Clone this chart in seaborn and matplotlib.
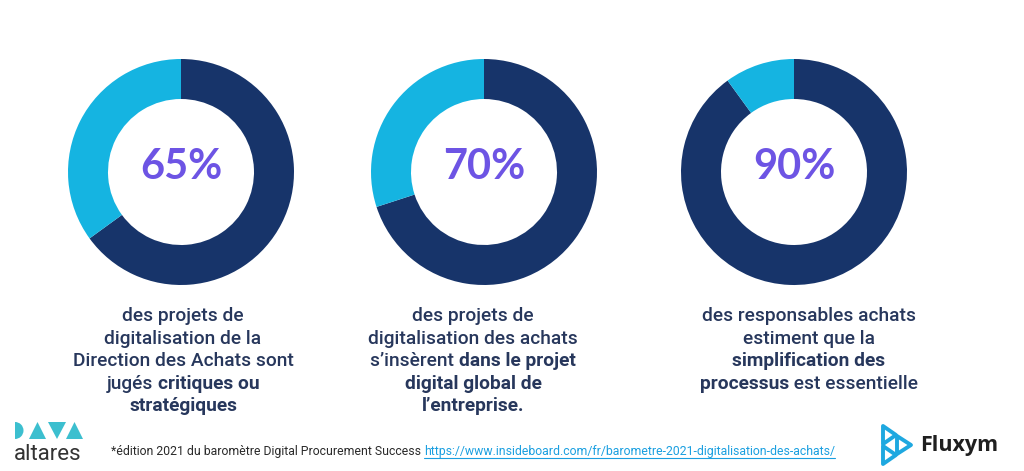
import matplotlib
matplotlib.use("Agg")
import matplotlib.pyplot as plt
import seaborn as sns
from matplotlib.patches import Polygon, Wedge

sns.set_theme(style="white")
plt.rcParams["font.family"] = ["Roboto", "DejaVu Sans"]

# ------------------------------------------------------------
#  data
# ------------------------------------------------------------
shares = [65, 70, 90]
share_labels = ["65%", "70%", "90%"]

caption_1 = [
    [("des projets de", False)],
    [("digitalisation de la", False)],
    [("Direction des Achats sont", False)],
    [("jugés ", False), ("critiques ou", True)],
    [("stratégiques", True)],
]
caption_2 = [
    [("des projets de", False)],
    [("digitalisation des achats", False)],
    [("s’insèrent ", False), ("dans le projet", True)],
    [("digital global de", True)],
    [("l’entreprise.", True)],
]
caption_3 = [
    [("des responsables achats", False)],
    [("estiment que la", False)],
    [("simplification des", True)],
    [("processus", True), (" est essentielle", False)],
]
captions = [caption_1, caption_2, caption_3]

footnote = "*édition 2021 du baromètre Digital Procurement Success "
footnote_url = "https://www.insideboard.com/fr/barometre-2021-digitalisation-des-achats/"

NAVY = "#17346a"
CYAN = "#15b4e1"
PURPLE = "#6d54e4"
TEXT = "#27375c"

W, H = 1024, 471
fig = plt.figure(figsize=(W / 100, H / 100), dpi=100)
fig.patch.set_facecolor("white")

# background axes in pixel units for text / logos
bg = fig.add_axes([0, 0, 1, 1])
bg.set_xlim(0, W)
bg.set_ylim(H, 0)
bg.axis("off")

# ------------------------------------------------------------
#  donuts
# ------------------------------------------------------------
centers_x = [181, 484, 794]
center_y = 172
R = 113

for cx, val, lab in zip(centers_x, shares, share_labels):
    ax = fig.add_axes([(cx - R) / W, (H - center_y - R) / H, 2 * R / W, 2 * R / H])
    ax.pie([val, 100 - val], colors=[NAVY, CYAN], startangle=90,
           counterclock=False, wedgeprops=dict(width=0.354, edgecolor="none"))
    ax.set_xlim(-1, 1)
    ax.set_ylim(-1, 1)
    ax.axis("off")
    ax.text(0, 0.04, lab, ha="center", va="center", fontsize=30,
            fontweight="bold", color=PURPLE, family=["Lato", "DejaVu Sans"])

# ------------------------------------------------------------
#  captions (mixed regular / bold on a line)
# ------------------------------------------------------------
renderer = fig.canvas.get_renderer()
caption_x = [183, 473, 809]
first_y = 316
line_gap = 22.6
CAP_SIZE = 13.8


def seg_width(txt, bold):
    t = bg.text(0, 0, txt, fontsize=CAP_SIZE,
                fontweight="bold" if bold else "medium")
    w = t.get_window_extent(renderer).width
    t.remove()
    return w


for cx, block in zip(caption_x, captions):
    for i, line in enumerate(block):
        y = first_y + i * line_gap
        widths = [seg_width(s, b) for s, b in line]
        x = cx - sum(widths) / 2
        for (s, b), w in zip(line, widths):
            bg.text(x, y, s, fontsize=CAP_SIZE, ha="left", va="center",
                    color=TEXT, fontweight="bold" if b else "medium")
            x += w

# ------------------------------------------------------------
#  footnote
# ------------------------------------------------------------
FN_SIZE = 8.8
fy = 451
t1 = bg.text(111, fy, footnote, fontsize=FN_SIZE, ha="left", va="center",
             color="#2a2a2a")
w1 = t1.get_window_extent(renderer).width
t2 = bg.text(111 + w1, fy, footnote_url, fontsize=FN_SIZE, ha="left",
             va="center", color="#1a9fe0")
w2 = t2.get_window_extent(renderer).width
bg.plot([111 + w1, 111 + w1 + w2], [fy + 7, fy + 7], color="#1a9fe0", lw=0.8)

# ------------------------------------------------------------
#  logos
# ------------------------------------------------------------
TEAL = "#3cbfcf"
# DATA glyphs
bg.add_patch(Wedge((15, 430.5), 8.5, -90, 90, color=TEAL, lw=0))
bg.add_patch(Polygon([[29, 439], [37.5, 422], [46, 439]], closed=True, color=TEAL, lw=0))
bg.add_patch(Polygon([[48, 422], [66, 422], [57, 439]], closed=True, color=TEAL, lw=0))
bg.add_patch(Polygon([[66, 439], [74.5, 422], [83, 439]], closed=True, color=TEAL, lw=0))
bg.text(48, 455, "altares", fontsize=16, ha="center", va="center",
        color="#333333")

# Fluxym icon: three outlined triangles
ICON = "#1ea8e0"
for tri in ([[883, 426], [896, 435], [883, 444]],
            [[883, 446], [896, 455], [883, 464]],
            [[897, 436], [911, 445], [897, 454]]):
    bg.add_patch(Polygon(tri, closed=True, fill=False, edgecolor=ICON, lw=2.8,
                         joinstyle="round"))
bg.text(920, 446, "Fluxym", fontsize=15.5, fontweight="bold", ha="left",
        va="center", color="#1f1f1f", family=["Open Sans", "DejaVu Sans"])

fig.savefig("out.png", dpi=100)
